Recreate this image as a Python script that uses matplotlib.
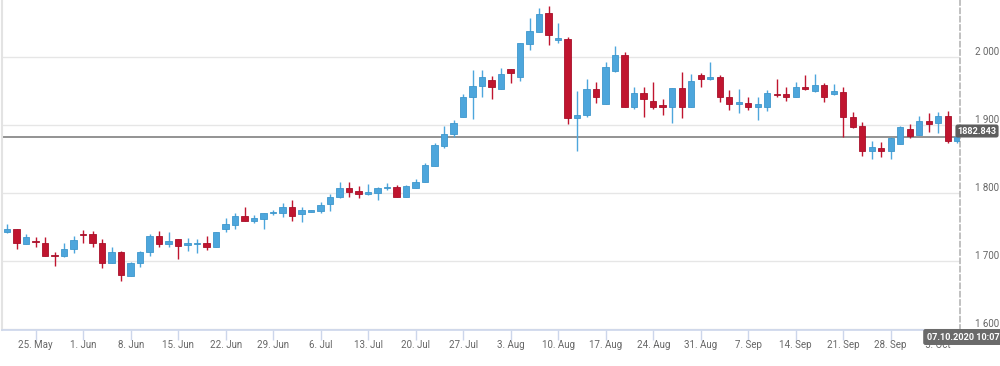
import matplotlib
matplotlib.use("Agg")
import matplotlib.pyplot as plt
import matplotlib.transforms as mtransforms
import numpy as np
import pandas as pd

# ---- data (XAU/USD daily candles, 20 May 2020 - 7 Oct 2020) ----
dates = pd.bdate_range("2020-05-20", "2020-10-07")

open_ = [1742.2, 1746.6, 1725.0, 1729.9, 1726.9, 1708.8, 1707.8, 1717.2, 1739.7, 1739.3,
         1726.0, 1697.5, 1712.8, 1678.4, 1696.6, 1712.8, 1736.8, 1725.0, 1731.9, 1724.0,
         1724.4, 1726.0, 1721.0, 1747.0, 1753.0, 1766.6, 1759.3, 1761.8, 1770.0, 1770.0,
         1779.9, 1769.0, 1772.5, 1774.0, 1783.4, 1793.7, 1807.8, 1803.0, 1798.0, 1800.4,
         1807.0, 1809.3, 1794.6, 1807.8, 1816.6, 1840.0, 1869.6, 1886.8, 1912.0, 1940.7,
         1957.8, 1966.0, 1952.5, 1982.4, 1971.0, 2019.0, 2037.0, 2064.0, 2025.4, 2026.0,
         1910.0, 1914.7, 1953.0, 1931.0, 1980.0, 2003.0, 1927.0, 1946.6, 1935.0, 1929.0,
         1927.0, 1954.0, 1927.0, 1973.5, 1967.2, 1970.0, 1941.6, 1930.4, 1932.8, 1927.0,
         1927.0, 1945.6, 1945.6, 1941.6, 1956.3, 1950.4, 1958.8, 1945.0, 1948.0, 1912.0,
         1899.0, 1861.8, 1865.7, 1861.8, 1872.0, 1893.7, 1885.3, 1905.9, 1902.5, 1913.7,
         1877.0]
high = [1754.4, 1746.6, 1739.3, 1734.9, 1734.9, 1713.7, 1726.9, 1736.8, 1745.6, 1744.6,
        1731.9, 1720.1, 1715.1, 1698.0, 1714.2, 1739.3, 1744.6, 1742.2, 1732.5, 1733.4,
        1731.9, 1736.8, 1743.1, 1762.8, 1770.0, 1779.0, 1767.6, 1771.0, 1775.0, 1785.7,
        1789.7, 1779.0, 1775.5, 1786.3, 1798.0, 1816.6, 1815.7, 1810.7, 1812.8, 1809.3,
        1814.3, 1811.8, 1811.8, 1820.1, 1843.6, 1873.0, 1899.0, 1907.4, 1945.0, 1980.9,
        1980.9, 1972.0, 1984.3, 1982.4, 2021.0, 2057.0, 2071.6, 2075.0, 2050.4, 2030.0,
        1950.4, 1967.0, 1963.7, 1992.0, 2016.0, 2007.0, 1955.4, 1955.4, 1963.7, 1937.8,
        1954.0, 1978.4, 1975.0, 1977.0, 1993.0, 1973.0, 1951.5, 1953.0, 1941.6, 1941.6,
        1951.5, 1967.2, 1955.4, 1963.7, 1973.5, 1975.0, 1962.2, 1959.8, 1955.4, 1919.6,
        1905.0, 1876.5, 1875.4, 1882.0, 1898.5, 1901.5, 1913.2, 1917.2, 1918.7, 1921.0,
        1882.8]
low = [1741.5, 1717.2, 1725.0, 1721.0, 1707.8, 1693.0, 1705.4, 1711.3, 1726.0, 1721.0,
       1689.3, 1696.6, 1671.0, 1678.0, 1691.6, 1707.8, 1721.0, 1721.0, 1702.9, 1715.1,
       1711.3, 1716.2, 1721.0, 1742.2, 1747.0, 1759.3, 1755.4, 1747.0, 1767.6, 1765.0,
       1758.8, 1757.8, 1772.0, 1770.0, 1773.5, 1792.2, 1794.6, 1793.0, 1797.0, 1789.7,
       1804.4, 1794.6, 1794.0, 1806.9, 1815.7, 1840.0, 1865.7, 1881.9, 1912.0, 1908.4,
       1941.6, 1938.0, 1952.5, 1962.2, 1965.0, 2011.0, 2037.0, 2017.6, 2021.0, 1901.5,
       1862.2, 1912.0, 1932.0, 1931.0, 1977.5, 1926.0, 1923.5, 1911.3, 1923.0, 1914.7,
       1903.4, 1910.0, 1926.0, 1955.4, 1966.0, 1934.3, 1922.0, 1917.2, 1922.0, 1907.4,
       1921.0, 1941.6, 1935.7, 1940.7, 1951.5, 1949.0, 1934.3, 1944.0, 1882.8, 1895.0,
       1854.4, 1849.6, 1852.5, 1849.6, 1872.0, 1880.4, 1885.3, 1890.1, 1887.8, 1874.0,
       1873.0]
close = [1746.6, 1726.0, 1734.9, 1727.9, 1707.8, 1707.8, 1717.2, 1730.9, 1737.8, 1726.0,
         1697.5, 1712.8, 1679.4, 1697.5, 1713.7, 1736.8, 1725.0, 1729.9, 1722.1, 1726.0,
         1726.0, 1721.0, 1743.1, 1754.0, 1766.6, 1759.3, 1762.8, 1771.0, 1771.6, 1780.0,
         1766.6, 1775.0, 1775.0, 1782.4, 1794.6, 1807.8, 1802.0, 1798.0, 1801.0, 1807.8,
         1809.3, 1794.6, 1810.7, 1816.6, 1841.0, 1870.6, 1886.8, 1902.5, 1941.6, 1957.4,
         1970.1, 1955.4, 1975.0, 1977.0, 2021.0, 2038.0, 2063.0, 2032.4, 2027.5, 1910.0,
         1914.7, 1953.0, 1941.6, 1985.0, 2003.0, 1926.0, 1946.6, 1937.8, 1927.0, 1926.9,
         1954.0, 1927.0, 1964.7, 1967.2, 1970.6, 1941.6, 1930.4, 1934.3, 1927.0, 1930.4,
         1946.6, 1943.7, 1941.6, 1955.4, 1952.5, 1958.8, 1941.6, 1950.4, 1911.3, 1897.5,
         1861.8, 1867.0, 1861.8, 1880.4, 1897.5, 1883.8, 1905.9, 1901.5, 1913.7, 1877.0,
         1882.8]

tick_labels = ["25. May", "1. Jun", "8. Jun", "15. Jun", "22. Jun", "29. Jun", "6. Jul",
               "13. Jul", "20. Jul", "27. Jul", "3. Aug", "10. Aug", "17. Aug", "24. Aug",
               "31. Aug", "7. Sep", "14. Sep", "21. Sep", "28. Sep", "5. Oct"]
y_ticks = [1600, 1700, 1800, 1900, 2000]
y_tick_labels = ["1 600", "1 700", "1 800", "1 900", "2 000"]
last_price = 1882.843
last_price_label = "1882.843"
time_label = "07.10.2020 10:07"

UP = "#4da6dc"
DOWN = "#c0152f"
UP_EDGE = "#3f97cc"
DOWN_EDGE = "#a8102a"

plt.rcParams['font.family'] = ['Roboto', 'DejaVu Sans']

W, H = 1000, 366
fig = plt.figure(figsize=(W / 100, H / 100), dpi=100)
ax = fig.add_axes([2 / W, (H - 330) / H, (960 - 2) / W, 330 / H])

o = np.array(open_); c = np.array(close); hi = np.array(high); lo = np.array(low)
x = np.arange(len(o))
up = c >= o
cols = np.where(up, UP, DOWN)
ecols = np.where(up, UP_EDGE, DOWN_EDGE)

# grid
for yv in y_ticks:
    ax.axhline(yv, color="#e6e6e6", lw=1, zorder=0)

# current price line
ax.axhline(last_price, color="#8a8a8a", lw=1.3, zorder=1)

# wicks
ax.vlines(x, lo, hi, colors=cols, lw=1.0, zorder=2)
# bodies
body_h = np.maximum(np.abs(c - o), 1.6)
body_b = np.minimum(o, c)
ax.bar(x, body_h, bottom=body_b, width=0.68, color=cols, edgecolor=ecols,
       linewidth=0.6, zorder=3)

ax.set_xlim(-0.547, 100.29)
ax.set_ylim(1598.5, 2083.8)

# x ticks on Mondays
tick_pos = [i for i, d in enumerate(dates) if d.weekday() == 0]
ax.set_xticks(tick_pos)
ax.set_xticklabels(tick_labels[:len(tick_pos)], fontsize=7, color="#666666")
ax.tick_params(axis="x", length=7, width=1, color="#ccd6eb", pad=0.5)
ax.set_yticks([])

ax.spines["top"].set_visible(False)
ax.spines["bottom"].set_color("#ccd6eb")
ax.spines["bottom"].set_linewidth(1.2)
ax.spines["left"].set_color("#e3e3e3")
ax.spines["left"].set_linewidth(1.5)
ax.spines["right"].set_color("#b5b5b5")
ax.spines["right"].set_linestyle((0, (3, 2)))
ax.spines["right"].set_linewidth(1.2)

# right-hand y labels
trans = mtransforms.blended_transform_factory(fig.transFigure, ax.transData)
for yv, lab in zip(y_ticks, y_tick_labels):
    ax.text(975 / W, yv, lab, transform=trans, fontsize=7, color="#666666",
            ha="left", va="bottom", clip_on=False)

# price label
fig.text(977 / W, 1 - 131 / H, last_price_label, ha="center", va="center",
         fontsize=6.6, color="white", fontweight="bold", zorder=10,
         bbox=dict(boxstyle="round,pad=0.22,rounding_size=0.25", fc="#5e5e5e",
                   ec="none"))
# time label
fig.text(963 / W, 1 - 337 / H, time_label, ha="center", va="center",
         fontsize=6.6, color="white", fontweight="bold", zorder=10,
         bbox=dict(boxstyle="round,pad=0.38,rounding_size=0.25", fc="#6a6a6a",
                   ec="none"))

fig.savefig("out.png", dpi=100, facecolor="white")
